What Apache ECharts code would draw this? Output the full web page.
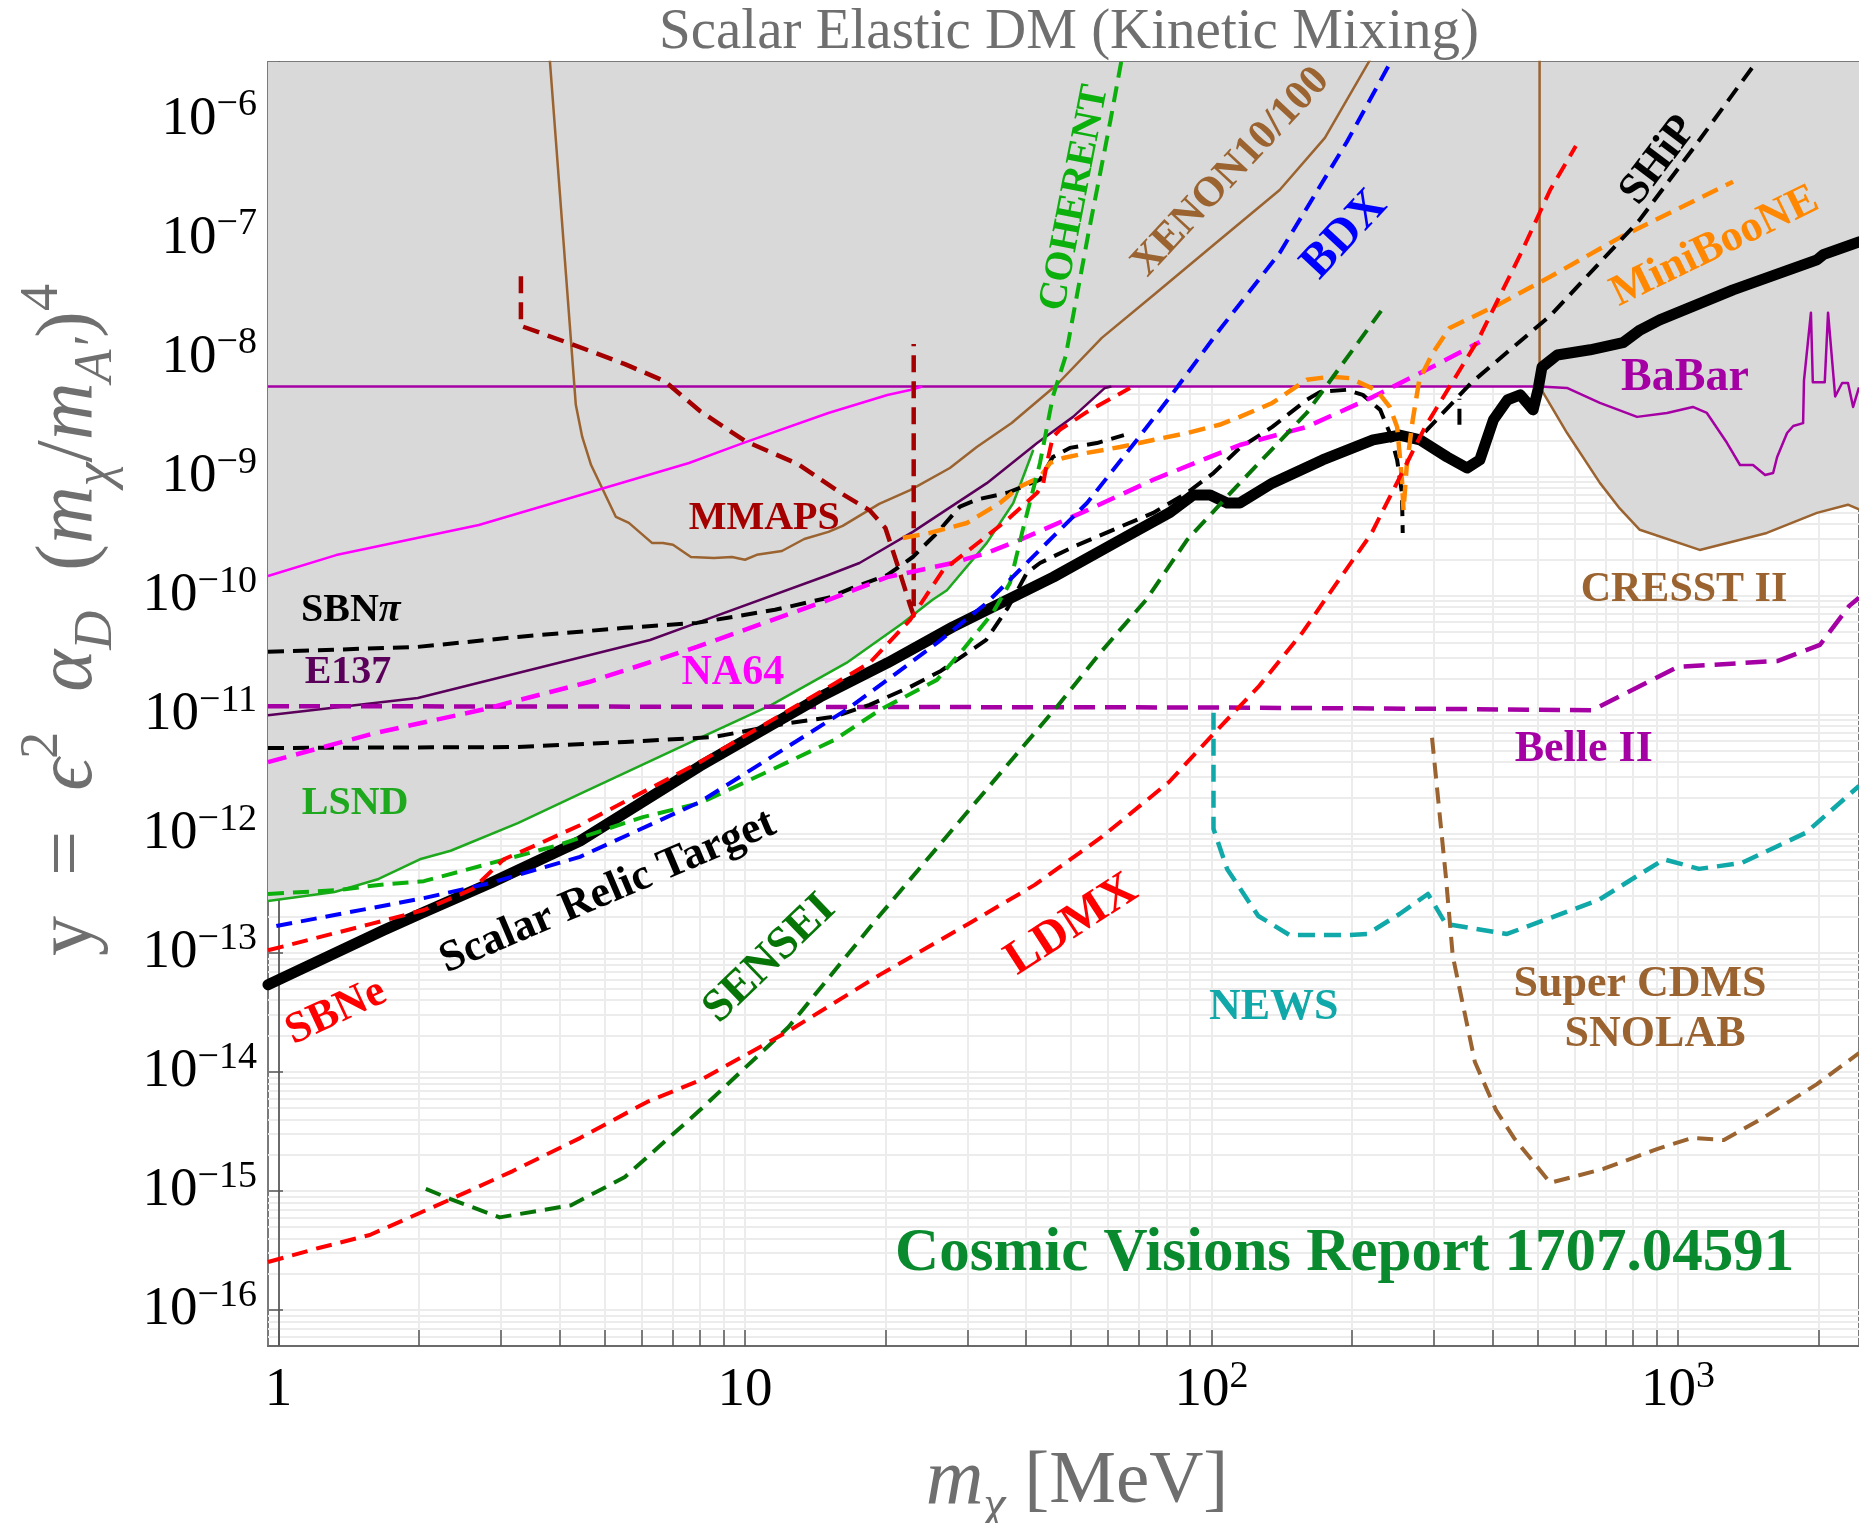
<!DOCTYPE html>
<html>
<head>
<meta charset="utf-8">
<title>Scalar Elastic DM (Kinetic Mixing)</title>
<script src="https://cdn.jsdelivr.net/npm/echarts@6/dist/echarts.min.js"></script>
<style>
  html, body { margin: 0; padding: 0; background: #fff; }
  #main { width: 1859px; height: 1523px; }
</style>
</head>
<body>
<div id="main"></div>
<script>
// axis ranges: m_chi [MeV] and y
var xRange = [0.95, 2443];
var yRange = [4.99e-17, 3.03e-6];

// curves, points are [m_chi (MeV), y]
var relicTarget = [[0.95,5.4e-14],[1.68,1.55e-13],[2.01,2.12e-13],[2.85,3.86e-13],[4.43,8.7e-13],[8.01,3.7e-12],[14.5,1.41e-11],[20.2,2.72e-11],[27.9,5.46e-11],[36.5,9.2e-11],[45.8,1.43e-10],[63.7,2.93e-10],[81.5,5.0e-10],[91.3,7.0e-10],[99.3,7.0e-10],[108,6.0e-10],[115,6.0e-10],[135,8.8e-10],[173,1.38e-9],[222,2.03e-9],[253,2.23e-9],[280,2.03e-9],[320,1.46e-9],[353,1.18e-9],[376,1.38e-9],[402,2.99e-9],[431,4.4e-9],[459,4.85e-9],[489,3.63e-9],[501,5.35e-9],[511,8.3e-9],[551,1.05e-8],[648,1.16e-8],[762,1.33e-8],[829,1.70e-8],[914,2.07e-8],[1312,3.70e-8],[1985,6.6e-8],[2047,7.3e-8],[2443,9.35e-8]];
var babar = [[0.95,5.7e-9],[506,5.7e-9],[578,5.55e-9],[680,4.15e-9],[817,3.17e-9],[947,3.42e-9],[1076,3.84e-9],[1153,3.42e-9],[1273,1.92e-9],[1358,1.25e-9],[1448,1.25e-9],[1537,1.03e-9],[1599,1.07e-9],[1631,1.46e-9],[1713,2.32e-9],[1766,2.66e-9],[1854,2.81e-9],[1862,6.4e-9],[1927,2.38e-8],[1945,6.2e-9],[2063,6.2e-9],[2097,2.38e-8],[2172,4.7e-9],[2248,6.1e-9],[2314,6.1e-9],[2373,3.84e-9],[2443,5.6e-9]];
var cresst = [[505,4e-6],[505,5.7e-9],[578,2.33e-9],[680,8.85e-10],[750,5.4e-10],[828,3.57e-10],[1113,2.42e-10],[1550,3.36e-10],[1985,4.95e-10],[2313,5.8e-10],[2443,5.3e-10]];
var xenon = [[3.8,4e-6],[4.34,4.0e-9],[4.48,2.15e-9],[4.68,1.25e-9],[5.29,4.58e-10],[5.64,4.08e-10],[6.32,2.77e-10],[6.67,2.77e-10],[7.01,2.67e-10],[7.66,2.11e-10],[8.58,2.07e-10],[9.38,2.11e-10],[10,2.0e-10],[10.6,2.2e-10],[12.0,2.37e-10],[13.4,2.99e-10],[15.1,3.43e-10],[16.2,3.85e-10],[19.4,5.9e-10],[22.6,7.7e-10],[27.5,1.18e-9],[31.4,1.77e-9],[37.3,2.82e-9],[46.6,5.9e-9],[58.2,1.46e-8],[75.6,3.41e-8],[101,8.8e-8],[140,2.55e-7],[175,6.98e-7],[222,3.5e-6]];
var mmaps = [[3.31,4.8e-8],[3.31,1.84e-8],[4.24,1.30e-8],[5.53,8.8e-9],[6.74,6.3e-9],[8.01,3.55e-9],[10,1.99e-9],[13.0,1.27e-9],[16.2,7.1e-10],[18.5,5.2e-10],[20.0,3.7e-10],[21.1,1.95e-10],[22.6,8.3e-11],[23.0,6.8e-11],[23.0,1.30e-8]];
var na64Old = [[0.95,1.46e-10],[1.33,2.19e-10],[2.69,3.92e-10],[7.59,1.30e-9],[9.9,1.91e-9],[15.1,3.42e-9],[20.2,4.84e-9],[22.6,5.33e-9],[24,5.7e-9]];
var e137 = [[0.95,9.9e-12],[1.99,1.38e-11],[6.26,4.24e-11],[7.89,5.9e-11],[15.1,1.49e-10],[17.6,1.88e-10],[22.9,3.43e-10],[33.0,8.8e-10],[42.3,1.91e-9],[50.5,3.17e-9],[59.1,5.55e-9],[61,5.7e-9]];
var lsnd = [[0.95,2.72e-13],[1.32,3.24e-13],[1.64,4.17e-13],[2.01,6.1e-13],[2.34,7.2e-13],[3.26,1.23e-12],[4.43,2.16e-12],[8.01,6.4e-12],[11.4,1.21e-11],[16.5,2.72e-11],[21.8,5.9e-11],[25.2,9.2e-11],[27.1,1.11e-10],[33.0,2.77e-10],[37.6,6.0e-10],[41.5,1.67e-9]];
var excludedEdge = [[0.95,2.72e-13],[1.32,3.24e-13],[1.64,4.17e-13],[2.01,6.1e-13],[2.34,7.2e-13],[3.26,1.23e-12],[4.43,2.16e-12],[8.01,6.4e-12],[11.4,1.21e-11],[16.5,2.72e-11],[21.8,5.9e-11],[25.2,9.2e-11],[27.1,1.11e-10],[33.0,2.77e-10],[37.6,6.0e-10],[41.5,1.67e-9],[42.3,1.91e-9],[50.5,3.17e-9],[59.1,5.55e-9],[61,5.7e-9],[505,5.7e-9],[578,2.33e-9],[680,8.85e-10],[750,5.4e-10],[828,3.57e-10],[1113,2.42e-10],[1550,3.36e-10],[1985,4.95e-10],[2313,5.8e-10],[2443,5.3e-10]];
var belle2 = [[0.95,1.18e-11],[100,1.15e-11],[300,1.12e-11],[654,1.09e-11],[1000,2.52e-11],[1637,2.83e-11],[2014,3.85e-11],[2328,8.2e-11],[2443,9.6e-11]];
var sbnPi = [[0.95,3.37e-11],[1.99,3.71e-11],[3.26,4.5e-11],[5.53,5.36e-11],[7.89,5.9e-11],[11.6,7.6e-11],[15.1,9.6e-11],[17.0,1.16e-10],[20.2,1.49e-10],[22.9,2.11e-10],[25.8,3.36e-10],[28.9,5.6e-10],[31.4,6.4e-10],[36.5,7.3e-10],[42.9,9.4e-10],[45.7,1.46e-9],[49.7,1.74e-9],[56.8,1.91e-9],[64.9,2.23e-9]];
var sbnLow = [[0.95,5.25e-12],[3.26,5.35e-12],[5.53,5.9e-12],[8.59,6.5e-12],[12.4,8.5e-12],[15.5,9.6e-12],[18.5,1.21e-11],[22.6,1.71e-11],[26.3,2.33e-11],[32.9,4.25e-11],[36.6,7.9e-11],[40.2,1.55e-10],[42.9,1.88e-10],[50.5,2.56e-10],[63.7,3.78e-10],[75,4.95e-10],[88.6,7.3e-10],[101,1.07e-9],[115,1.74e-9],[135,2.61e-9],[160,4.4e-9],[171,5.14e-9],[195,5.35e-9],[211,4.85e-9],[230,3.63e-9],[241,2.33e-9],[250,1.38e-9],[256,7.3e-10],[257,3.36e-10]];
var ship = [[287,2.37e-9],[360,6.1e-9],[532,2.24e-8],[825,1.41e-7],[1071,5.5e-7],[1469,3e-6]];
var shipStub = [[340,2.72e-9],[340,4.5e-9]];
var miniboone = [[21.8,3.05e-10],[24.9,3.36e-10],[29.9,4.07e-10],[35.2,6.0e-10],[38.8,8.2e-10],[42.9,9.9e-10],[45.1,1.30e-9],[48.1,1.43e-9],[54.1,1.58e-9],[63.7,1.77e-9],[75,2.03e-9],[88.6,2.32e-9],[104,2.72e-9],[115,3.17e-9],[135,4.15e-9],[160,6.5e-9],[180,6.9e-9],[198,6.7e-9],[226,5.3e-9],[241,3.84e-9],[250,2.61e-9],[253,1.58e-9],[256,9.4e-10],[258,5.2e-10],[262,1.2e-9],[270,2.99e-9],[279,6.5e-9],[298,1.09e-8],[324,1.77e-8],[415,2.82e-8],[532,4.76e-8],[755,1.03e-7],[1312,2.99e-7]];
var na64 = [[0.95,4.0e-12],[1.61,7.0e-12],[2.73,1.10e-11],[4.63,1.88e-11],[7.89,3.71e-11],[15.1,9.2e-11],[20.2,1.43e-10],[27.9,1.88e-10],[33.0,2.28e-10],[38.8,2.93e-10],[54.1,5.2e-10],[75,9.4e-10],[115,1.84e-9],[160,2.61e-9],[222,4.67e-9],[309,9.0e-9],[376,1.35e-8]];
var coherent = [[0.95,3.12e-13],[1.35,3.37e-13],[1.64,3.72e-13],[2.05,4.0e-13],[3.97,8.0e-13],[6.04,1.38e-12],[8.01,1.81e-12],[11.4,3.44e-12],[15.5,6.1e-12],[19.5,1.10e-11],[25.8,1.96e-11],[29.3,3.5e-11],[34.0,7.2e-11],[37.0,1.28e-10],[39.4,3.56e-10],[42.9,1.30e-9],[45.7,4.67e-9],[48.7,1.03e-8],[54.3,1.03e-7],[60.8,1.0e-6],[64.2,3.2e-6]];
var bdx = [[0.99,1.68e-13],[2.05,2.88e-13],[2.85,3.86e-13],[4.43,6.4e-13],[8.01,1.85e-12],[16.5,1.10e-11],[20.2,1.96e-11],[25.8,4.0e-11],[33.0,8.7e-11],[38.8,1.64e-10],[45.7,3.11e-10],[54.1,6.0e-10],[69.2,2.03e-9],[81.5,4.67e-9],[104,1.70e-8],[140,7.55e-8],[195,6.45e-7],[244,3.2e-6]];
var sbne = [[0.95,1.05e-13],[1.58,1.75e-13],[2.05,2.29e-13],[2.61,3.44e-13],[3.04,6.1e-13],[3.56,8.0e-13],[4.43,1.18e-12],[8.01,4.0e-12],[14.5,1.55e-11],[18.5,2.72e-11],[22.6,6.25e-11],[26.6,1.64e-10],[30.8,2.56e-10],[36.5,4.33e-10],[42.3,7.3e-10],[43.6,8.8e-10],[44.4,1.30e-9],[45.7,2.15e-9],[47.3,2.47e-9],[54.1,3.49e-9],[66.9,5.55e-9]];
var ldmx = [[0.95,2.53e-16],[1.22,3.32e-16],[1.57,4.27e-16],[2.29,8.2e-16],[3.18,1.47e-15],[4.43,2.78e-15],[6.17,5.6e-15],[8.01,8.5e-15],[12.4,2.2e-14],[19.4,6.5e-14],[30.1,1.75e-13],[41.8,3.72e-13],[58.2,9.4e-13],[81.1,2.72e-12],[101,6.9e-12],[126,1.71e-11],[157,4.95e-11],[175,9.2e-11],[220,3.3e-10],[287,2.61e-9],[373,1.41e-8],[461,7.55e-8],[532,2.55e-7],[604,5.97e-7]];
var sensei = [[2.07,1.04e-15],[2.34,8.55e-16],[2.98,6.0e-16],[4.24,7.6e-16],[5.53,1.31e-15],[8.01,4.78e-15],[12.4,2.38e-14],[19.4,2.04e-13],[27.0,9.4e-13],[37.6,4.33e-12],[46.6,1.16e-11],[58.2,3.43e-11],[72.4,9.2e-11],[88.6,2.93e-10],[113,8.2e-10],[160,3.42e-9],[231,2.46e-8]];
var news = [[101,1.04e-11],[101,1.10e-12],[108,5.07e-13],[126,2.04e-13],[147,1.41e-13],[195,1.41e-13],[216,1.44e-13],[253,2.12e-13],[291,3.12e-13],[318,1.75e-13],[430,1.44e-13],[676,2.78e-13],[933,6.1e-13],[1109,5.07e-13],[1371,5.7e-13],[1880,1.02e-12],[2443,2.52e-12]];
var cdms = [[297,6.4e-12],[318,4.35e-13],[329,9.4e-14],[367,1.21e-14],[407,4.8e-15],[445,2.79e-15],[532,1.17e-15],[691,1.53e-15],[901,2.25e-15],[1071,2.79e-15],[1254,2.68e-15],[1520,4.1e-15],[1985,7.9e-15],[2443,1.44e-14]];

// text labels placed in data coordinates
var labelText = ['SBN{it|π}','E137','LSND','NA64','MMAPS','COHERENT','XENON10/100','BDX','SHiP','MiniBooNE','BaBar','CRESST II','Belle II','NEWS','Super CDMS','SNOLAB','Cosmic Visions Report 1707.04591','Scalar Relic Target','SENSEI','LDMX','SBNe'];
var labelAt = [[1.43,7.45e-11],[1.41,2.24e-11],[1.46,1.78e-12],[9.42,2.24e-11],[11.0,4.4e-10],[51.0,2.19e-7],[110,3.6e-7],[193,1.07e-7],[910,4.5e-7],[1200,8.5e-8],[1035,6.7e-9],[1030,1.11e-10],[628,5.05e-12],[136,3.44e-14],[829,5.45e-14],[893,2.07e-14],[193,2.96e-16],[5.08,3.24e-13],[11.3,8.9e-14],[50.2,1.71e-13],[1.33,3.18e-14]];
var labelAngle = [0,0,0,0,0,79,47,47,53,26,0,0,0,0,0,0,0,23,44,33,25];

// label styles, by label index
var labelColor = ['#000','#5a005a','#1ea81e','#ff00ff','#a50000','#0cb00c','#9a6330','#0000ff','#000','#ff8800','#a400a4','#9a6330','#a400a4','#10a8a8','#9a6330','#9a6330','#0a8a2e','#000','#067406','#ff0000','#ff0000'];
var labelSize = [40,40,40,42,40,40,42,48,44,44,46,42,44,44,44,44,61,44,46,48,44];

var FONT = '"Liberation Serif", "Times New Roman", serif';

function lg(pts) {
  return pts.map(function (p) { return [Math.log10(p[0]), Math.log10(p[1])]; });
}

var xMin = Math.log10(xRange[0]), xMax = Math.log10(xRange[1]);
var yMin = Math.log10(yRange[0]), yMax = Math.log10(yRange[1]);

// tick positions: every k*10^n
function logTicks(lo, hi) {
  var out = [];
  for (var n = Math.floor(lo) - 1; n <= Math.ceil(hi); n++) {
    for (var k = 1; k <= 9; k++) {
      var v = n + Math.log10(k);
      if (v >= lo - 1e-9 && v <= hi + 1e-9) out.push(v);
    }
  }
  return out;
}
var xTicks = logTicks(xMin, xMax);
var yTicks = logTicks(yMin, yMax);
var xMajor = [0, 1, 2, 3];
var yMajor = [];
for (var e = -16; e <= -6; e++) yMajor.push(e);

function curve(pts, color, width, dash, z) {
  return {
    type: 'line', data: lg(pts), symbol: 'none', showSymbol: false, silent: true,
    z: z || 3,
    lineStyle: { color: color, width: width, type: dash || 'solid', cap: 'butt', join: 'round' }
  };
}

var series = [
  {
    type: 'line', data: lg(excludedEdge), symbol: 'none', silent: true, z: 1,
    lineStyle: { width: 0 },
    areaStyle: { color: '#d9d9d9', opacity: 1, origin: 'end' }
  },
  curve(babar, '#a400a4', 2.5),
  curve(cresst, '#9a6330', 2.5),
  curve(xenon, '#9a6330', 2.5),
  curve(na64Old, '#ff00ff', 2.5),
  curve(e137, '#5a005a', 2.5),
  curve(lsnd, '#1ea81e', 2.5),
  curve(belle2, '#a400a4', 4.5, [21, 10]),
  curve(mmaps, '#a50000', 4.5, [17, 9]),
  {
    type: 'line', data: lg(relicTarget), symbol: 'none', silent: true, z: 3,
    lineStyle: { color: '#000', width: 11, join: 'round', cap: 'round' }
  },
  curve(sbnPi, '#000', 4, [16, 9]),
  curve(sbnLow, '#000', 4, [16, 9]),
  curve(na64, '#ff00ff', 4.5, [19, 10]),
  curve(miniboone, '#ff8800', 4.5, [17, 9]),
  curve(ship, '#000', 4, [16, 9]),
  curve(shipStub, '#000', 4, [16, 9]),
  curve(coherent, '#0cb00c', 4, [16, 9]),
  curve(bdx, '#0000ff', 4, [16, 9]),
  curve(sbne, '#ff0000', 4, [16, 9]),
  curve(sensei, '#067406', 4, [16, 9]),
  curve(ldmx, '#ff0000', 4, [16, 9]),
  curve(news, '#10a8a8', 4.5, [17, 9]),
  curve(cdms, '#9a6330', 4, [16, 9]),
  {
    type: 'scatter', symbolSize: 0, silent: true, z: 10,
    itemStyle: { opacity: 1 },
    data: labelText.map(function (t, i) {
      return {
        value: [Math.log10(labelAt[i][0]), Math.log10(labelAt[i][1])],
        label: {
          show: true, position: 'inside', formatter: t, rotate: labelAngle[i], opacity: 1,
          color: labelColor[i], fontSize: labelSize[i], fontWeight: 'bold', fontFamily: FONT,
          rich: { it: { fontStyle: 'italic', fontWeight: 'bold', fontSize: labelSize[i], color: labelColor[i], fontFamily: FONT } }
        }
      };
    })
  }
];

var tickRich = {
  b: { fontSize: 55, lineHeight: 66, fontFamily: FONT, color: '#000' },
  s: { fontSize: 38, lineHeight: 38, verticalAlign: 'top', fontFamily: FONT, color: '#000' }
};

var option = {
  animation: false,
  backgroundColor: '#fff',
  grid: { left: 268, top: 62, right: 0, bottom: 177, show: true, borderColor: '#7a7a7a', borderWidth: 2, backgroundColor: 'rgba(0,0,0,0)' },
  xAxis: {
    type: 'value', min: xMin, max: xMax,
    axisLine: { show: true, lineStyle: { color: '#6a6a6a', width: 2 } },
    axisTick: { show: true, inside: true, length: 16, customValues: xTicks, lineStyle: { color: '#555', width: 1.5 } },
    splitLine: { show: true, lineStyle: { color: '#ececec', width: 2 } },
    axisLabel: {
      customValues: xMajor, margin: 12, rich: tickRich,
      formatter: function (v) {
        var n = Math.round(v);
        if (n === 0) return '{b|1}';
        if (n === 1) return '{b|10}';
        return '{b|10}{s|' + n + '}';
      }
    }
  },
  yAxis: [
    {
      type: 'value', min: yMin, max: yMax,
      axisLine: { show: true, lineStyle: { color: '#6a6a6a', width: 2 } },
      axisTick: { show: false, customValues: yTicks },
      axisLabel: { show: false },
      splitLine: { show: true, lineStyle: { color: '#ececec', width: 2 } }
    },
    {
      type: 'value', min: yMin, max: yMax, position: 'left',
      axisLine: { show: false },
      axisTick: { show: true, inside: true, length: 15, customValues: yMajor, lineStyle: { color: '#555', width: 1.5 } },
      splitLine: { show: false },
      axisLabel: {
        customValues: yMajor, margin: 11, rich: tickRich,
        formatter: function (v) {
          var n = Math.round(v);
          return '{b|10}{s|' + (n < 0 ? '\u2212' : '') + Math.abs(n) + '}';
        }
      }
    }
  ],
  graphic: [
    {
      type: 'text', x: 1069, y: 33,
      style: { text: 'Scalar Elastic DM (Kinetic Mixing)', font: '57px ' + FONT, fill: '#6f6f6f', align: 'center', verticalAlign: 'middle' }
    },
    {
      type: 'text', x: 1077, y: 1482,
      style: {
        text: '{i|m}{sub|\u03c7}{n| [MeV]}', align: 'center', verticalAlign: 'middle',
        rich: {
          i: { font: 'italic 80px ' + FONT, fill: '#6f6f6f', lineHeight: 100 },
          sub: { font: 'italic 50px ' + FONT, fill: '#6f6f6f', lineHeight: 50, verticalAlign: 'bottom' },
          n: { font: '75px ' + FONT, fill: '#6f6f6f', lineHeight: 100 }
        }
      }
    },
    {
      type: 'text', x: 70, y: 620, rotation: Math.PI / 2,
      style: {
        text: '{n|y  =  }{i|\u03f5}{sup|2}{n|  }{i|\u03b1}{sub|D}{n|  (}{i|m}{sub|\u03c7}{n|/}{i|m}{sub|A\u2032}{n|)}{sup|4}',
        align: 'center', verticalAlign: 'middle',
        rich: {
          n: { font: '80px ' + FONT, fill: '#6f6f6f', lineHeight: 108 },
          i: { font: 'italic 80px ' + FONT, fill: '#6f6f6f', lineHeight: 108 },
          sup: { font: '54px ' + FONT, fill: '#6f6f6f', lineHeight: 54, verticalAlign: 'top' },
          sub: { font: 'italic 54px ' + FONT, fill: '#6f6f6f', lineHeight: 54, verticalAlign: 'bottom' }
        }
      }
    }
  ],
  series: series
};

var chart = echarts.init(document.getElementById('main'));
chart.setOption(option);
</script>
</body>
</html>
